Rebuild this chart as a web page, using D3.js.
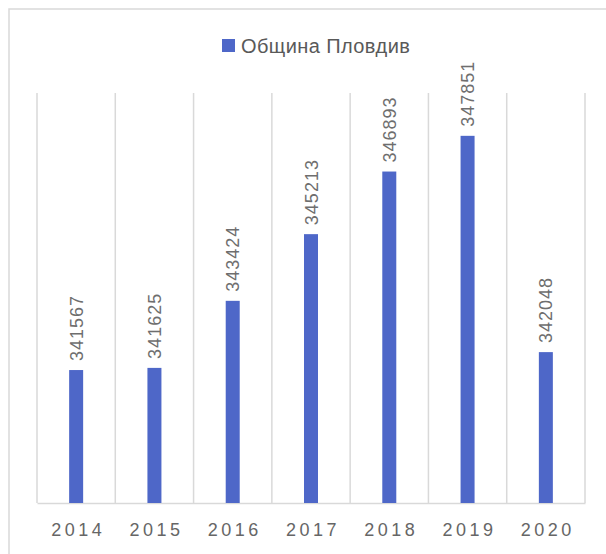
<!DOCTYPE html>
<html>
<head>
<meta charset="utf-8">
<script src="https://cdn.jsdelivr.net/npm/d3@7"></script>
<style>
  body { margin: 0; background: #fff; }
  svg { display: block; }
  text { font-family: "Liberation Sans", Arial, sans-serif; }
</style>
</head>
<body>
<div id="chart"></div>
<script>
// data
var years = ["2014", "2015", "2016", "2017", "2018", "2019", "2020"];
var population = [341567, 341625, 343424, 345213, 346893, 347851, 342048];
var seriesName = "Община Пловдив";
var yDomain = [338000, 349000];

var width = 606, height = 554;
var margin = {top: 93, right: 21, bottom: 51, left: 37};

var svg = d3.select("#chart").append("svg")
    .attr("width", width)
    .attr("height", height);

// outer frame (right and bottom edges fall outside the picture)
svg.append("rect")
    .attr("x", 9).attr("y", 9)
    .attr("width", 620).attr("height", 580)
    .attr("fill", "none")
    .attr("stroke", "#d9d9d9")
    .attr("stroke-width", 1.5);

var x = d3.scaleBand()
    .domain(years)
    .range([margin.left, width - margin.right])
    .paddingInner(0).paddingOuter(0);

var y = d3.scaleLinear()
    .domain(yDomain)
    .range([height - margin.bottom, margin.top]);

// vertical gridlines between categories
var edges = years.map(function(d){ return x(d); }).concat([x(years[years.length-1]) + x.bandwidth()]);
svg.append("g").selectAll("line")
    .data(edges)
    .enter().append("line")
    .attr("x1", function(d){ return d; })
    .attr("x2", function(d){ return d; })
    .attr("y1", margin.top)
    .attr("y2", height - margin.bottom)
    .attr("stroke", "#d9d9d9")
    .attr("stroke-width", 1.5);

// baseline axis
var xAxis = svg.append("g")
    .attr("transform", "translate(0," + (height - margin.bottom) + ")")
    .call(d3.axisBottom(x).tickSize(0).tickPadding(20));
xAxis.select(".domain").attr("stroke", "#d9d9d9").attr("stroke-width", 1.5);
xAxis.selectAll("text")
    .attr("fill", "#666")
    .attr("dx", "2px")
    .style("font-size", "18px")
    .style("letter-spacing", "3.5px");

var barW = 14;
svg.append("g").selectAll("rect")
    .data(population)
    .enter().append("rect")
    .attr("x", function(d, i){ return x(years[i]) + x.bandwidth()/2 - barW/2; })
    .attr("y", function(d){ return y(d); })
    .attr("width", barW)
    .attr("height", function(d){ return y(yDomain[0]) - y(d); })
    .attr("fill", "#4e67c8");

// value labels, rotated
svg.append("g").selectAll("text")
    .data(population)
    .enter().append("text")
    .attr("transform", function(d, i){
        var cx = x(years[i]) + x.bandwidth()/2 + 6.5;
        return "translate(" + cx + "," + (y(d) - 9) + ") rotate(-90)";
    })
    .attr("fill", "#6e6e6e")
    .style("font-size", "18px")
    .style("letter-spacing", "1px")
    .text(function(d){ return d; });

// legend
var legend = svg.append("g").attr("transform", "translate(222,39)");
legend.append("rect")
    .attr("width", 13).attr("height", 13)
    .attr("fill", "#4e67c8");
legend.append("text")
    .attr("x", 19).attr("y", 13.5)
    .attr("fill", "#595959")
    .style("font-size", "20px")
    .style("letter-spacing", "0.4px")
    .text(seriesName);
</script>
</body>
</html>
